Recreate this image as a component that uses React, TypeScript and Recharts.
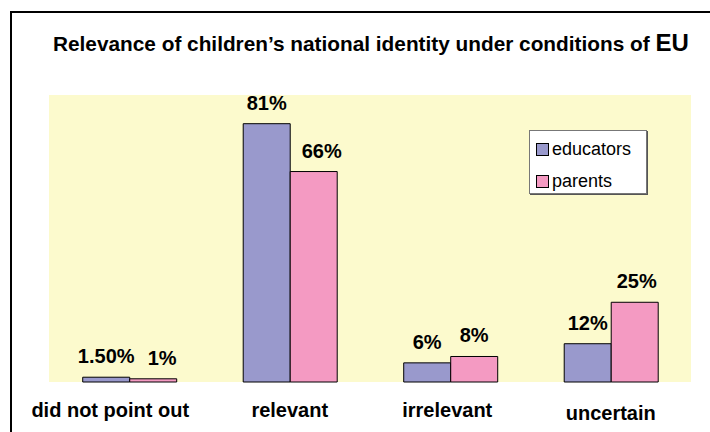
import React from 'react';
import { BarChart, Bar, XAxis, YAxis, CartesianGrid, Legend, LabelList, ReferenceArea } from 'recharts';

const categories = ['did not point out', 'relevant', 'irrelevant', 'uncertain'];
const educators = [1.5, 81, 6, 12];
const parents = [1, 66, 8, 25];
const educatorLabels = ['1.50%', '81%', '6%', '12%'];
const parentLabels = ['1%', '66%', '8%', '25%'];

const data = categories.map((c, i) => ({
  category: c,
  educators: educators[i],
  parents: parents[i],
  eduLabel: educatorLabels[i],
  parLabel: parentLabels[i],
}));

const FONT = '"Liberation Sans", Arial, sans-serif';
const EDU = '#9999CC';
const PAR = '#F49AC2';
const PARENT_LABEL_NUDGE = [9, 8, 0, 2];

const CategoryTick = (props: any) => {
  const { x, y, payload, index } = props;
  const dx = index === 0 ? -19 : index === 2 ? -3 : 0;
  const dy = index === 3 ? 3 : 0;
  return (
    <text x={x + dx} y={y + 27 + dy} textAnchor="middle" fontFamily={FONT} fontWeight="bold" fontSize={20} fill="#000">
      {payload.value}
    </text>
  );
};

const makeLabel = (nudge: number[] | null) => (props: any) => {
  const { x, y, width, value, index } = props;
  const dx = nudge ? nudge[index] || 0 : 0;
  return (
    <text x={x + width / 2 + dx} y={y - 14} textAnchor="middle" fontFamily={FONT} fontWeight="bold" fontSize={20} fill="#000">
      {value}
    </text>
  );
};

const LegendBox = () => (
  <div
    style={{
      position: 'relative',
      width: 116,
      height: 62,
      background: '#fff',
      border: '1px solid #777',
      boxShadow: '1px 1px 0 #555',
      fontFamily: FONT,
      fontSize: 18,
      color: '#000',
      boxSizing: 'content-box',
    }}
  >
    {[
      { name: 'educators', color: EDU },
      { name: 'parents', color: PAR },
    ].map((it, i) => (
      <div key={it.name} style={{ position: 'absolute', left: 6, top: i === 0 ? 8 : 40, display: 'flex', alignItems: 'center', lineHeight: '20px' }}>
        <span style={{ display: 'inline-block', width: 11, height: 11, background: it.color, border: '1px solid #000', marginRight: 3 }} />
        <span>{it.name}</span>
      </div>
    ))}
  </div>
);

export default function App() {
  return (
    <div style={{ position: 'absolute', left: 0, top: 0, width: 710, height: 432, overflow: 'hidden', background: '#fff' }}>
      <div style={{ position: 'absolute', left: 10, top: 11, width: 760, height: 480, border: '2px solid #000' }} />
      <div
        style={{
          position: 'absolute',
          left: 53,
          top: 30,
          whiteSpace: 'nowrap',
          fontFamily: FONT,
          fontWeight: 'bold',
          fontSize: 20.8,
          color: '#000',
          lineHeight: '26px',
        }}
      >
        Relevance of children’s national identity under conditions of <span style={{ fontSize: 24 }}>EU</span>
      </div>
      <div style={{ position: 'absolute', left: 0, top: 0 }}>
        <BarChart
          width={710}
          height={432}
          data={data}
          margin={{ top: 95, right: 19, bottom: 0, left: 49 }}
          barGap={0}
          barCategoryGap="21%"
        >
          <CartesianGrid horizontal={false} vertical={false} fill="#FCFACD" />
          <XAxis dataKey="category" axisLine={false} tickLine={false} tick={<CategoryTick />} interval={0} height={50} />
          <YAxis hide domain={[0, 90]} />
          <ReferenceArea fill="none" stroke="#9a9a9a" strokeWidth={1.5} ifOverflow="visible" />
          <Legend
            layout="horizontal"
            verticalAlign="middle"
            align="center"
            content={<LegendBox />}
            wrapperStyle={{ position: 'absolute', left: 529, top: 130, width: 118, height: 64 }}
          />
          <Bar dataKey="educators" fill={EDU} stroke="#000" strokeWidth={1} isAnimationActive={false}>
            <LabelList dataKey="eduLabel" content={makeLabel(null)} />
          </Bar>
          <Bar dataKey="parents" fill={PAR} stroke="#000" strokeWidth={1} isAnimationActive={false}>
            <LabelList dataKey="parLabel" content={makeLabel(PARENT_LABEL_NUDGE)} />
          </Bar>
        </BarChart>
      </div>
    </div>
  );
}
